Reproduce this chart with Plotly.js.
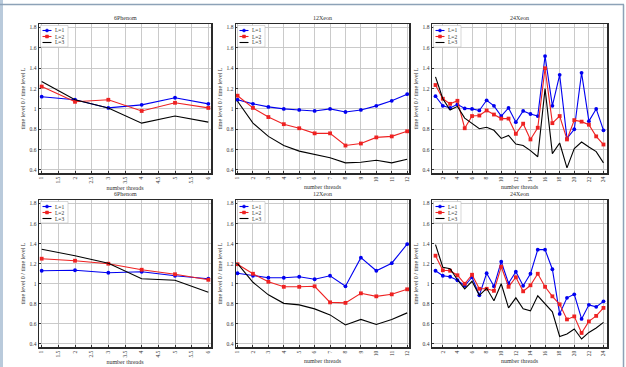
<!DOCTYPE html>
<html>
<head>
<meta charset="utf-8">
<script src="https://cdn.plot.ly/plotly-3.0.1.min.js"></script>
<style>
  html, body { margin: 0; padding: 0; background: #ffffff; }
  #chart { width: 626px; height: 367px; }
</style>
</head>
<body>
<div id="chart"></div>
<script>
// Speed-up ratios (time level 0 / time level L) against thread count, per machine.
const machines = ['6Phenom', '12Xeon', '24Xeon'];
const seriesNames = ['L=1', 'L=2', 'L=3'];

const threadsPhenom = [1, 2, 3, 4, 5, 6];
const threadsXeon12 = [1, 2, 3, 4, 5, 6, 7, 8, 9, 10, 11, 12];
const threadsXeon24 = [1, 2, 3, 4, 5, 6, 7, 8, 9, 10, 11, 12, 13, 14, 15, 16, 17, 18, 19, 20, 21, 22, 23, 24];

// first set of runs (upper row)
const phenomSet1L1 = [1.12, 1.09, 1.01, 1.04, 1.11, 1.05];
const phenomSet1L2 = [1.22, 1.07, 1.09, 0.98, 1.06, 1.01];
const phenomSet1L3 = [1.27, 1.09, 1.01, 0.86, 0.93, 0.87];

const xeon12Set1L1 = [1.09, 1.05, 1.02, 1.00, 0.99, 0.98, 1.00, 0.97, 0.99, 1.03, 1.08, 1.145];
const xeon12Set1L2 = [1.13, 1.01, 0.92, 0.85, 0.81, 0.76, 0.76, 0.64, 0.66, 0.72, 0.73, 0.78];
const xeon12Set1L3 = [1.075, 0.86, 0.73, 0.64, 0.585, 0.55, 0.52, 0.47, 0.475, 0.495, 0.47, 0.505];

const xeon24Set1L1 = [1.125, 1.03, 1.01, 1.045, 1.005, 1.0, 0.985, 1.085, 1.03, 0.93, 1.01, 0.87, 0.98, 0.95, 0.93, 1.52, 1.03, 1.335, 0.71, 0.80, 1.355, 0.88, 1.0, 0.79];
const xeon24Set1L2 = [1.235, 1.10, 1.05, 1.08, 0.81, 0.93, 0.935, 0.985, 0.945, 0.905, 0.905, 0.755, 0.855, 0.70, 0.815, 1.40, 0.86, 0.93, 0.70, 0.89, 0.875, 0.845, 0.73, 0.65];
const xeon24Set1L3 = [1.315, 1.10, 0.99, 1.025, 0.91, 0.855, 0.805, 0.82, 0.79, 0.71, 0.74, 0.655, 0.64, 0.59, 0.53, 1.20, 0.56, 0.665, 0.42, 0.61, 0.675, 0.625, 0.58, 0.47];

// second set of runs (lower row)
const phenomSet2L1 = [1.13, 1.135, 1.11, 1.12, 1.08, 1.05];
const phenomSet2L2 = [1.25, 1.23, 1.20, 1.14, 1.095, 1.04];
const phenomSet2L3 = [1.345, 1.28, 1.205, 1.05, 1.035, 0.915];

const xeon12Set2L1 = [1.105, 1.08, 1.06, 1.06, 1.07, 1.045, 1.08, 0.975, 1.26, 1.13, 1.205, 1.395];
const xeon12Set2L2 = [1.195, 1.10, 1.02, 0.97, 0.97, 0.975, 0.815, 0.81, 0.905, 0.875, 0.895, 0.945];
const xeon12Set2L3 = [1.20, 1.015, 0.89, 0.805, 0.79, 0.75, 0.69, 0.59, 0.645, 0.595, 0.645, 0.71];

const xeon24Set2L1 = [1.13, 1.08, 1.07, 1.035, 0.98, 1.065, 0.885, 1.105, 0.975, 1.22, 1.005, 1.12, 0.98, 1.10, 1.34, 1.34, 1.145, 0.70, 0.86, 0.895, 0.65, 0.79, 0.77, 0.825];
const xeon24Set2L2 = [1.28, 1.135, 1.13, 1.085, 1.0, 1.09, 0.95, 0.95, 0.93, 1.17, 0.97, 1.065, 0.925, 0.985, 1.10, 0.97, 0.875, 0.795, 0.645, 0.675, 0.51, 0.625, 0.68, 0.76];
const xeon24Set2L3 = [1.39, 1.165, 1.15, 1.04, 0.95, 1.025, 0.885, 0.955, 0.83, 1.0, 0.76, 0.86, 0.75, 0.73, 0.88, 0.80, 0.72, 0.475, 0.50, 0.55, 0.45, 0.515, 0.56, 0.615];

// tick positions and labels
const yTickVals = [0.4, 0.6, 0.8, 1.0, 1.2, 1.4, 1.6, 1.8];
const yTickText = ['0.4', '0.6', '0.8', '1', '1.2', '1.4', '1.6', '1.8'];
const phenomTickVals = [1, 1.5, 2, 2.5, 3, 3.5, 4, 4.5, 5, 5.5, 6];
const phenomTickText = ['1', '1.5', '2', '2.5', '3', '3.5', '4', '4.5', '5', '5.5', '6'];
const xeon12TickVals = [1, 2, 3, 4, 5, 6, 7, 8, 9, 10, 11, 12];
const xeon24TickVals = [2, 4, 6, 8, 10, 12, 14, 16, 18, 20, 22, 24];

const xTitle = 'number threads';
const yTitle = 'time level 0 / time level L';

const FONT = 'Liberation Serif, DejaVu Serif, serif';
const COLORS = ['#0000f0', '#ee2222', '#000000'];
const SYMBOLS = ['circle', 'square', null];

const panels = [
  { name: machines[0], x: threadsPhenom, ys: [phenomSet1L1, phenomSet1L2, phenomSet1L3], ticks: phenomTickVals, tickText: phenomTickText, range: [0.92, 6.08] },
  { name: machines[1], x: threadsXeon12, ys: [xeon12Set1L1, xeon12Set1L2, xeon12Set1L3], ticks: xeon12TickVals, tickText: xeon12TickVals.map(String), range: [0.9, 12.12] },
  { name: machines[2], x: threadsXeon24, ys: [xeon24Set1L1, xeon24Set1L2, xeon24Set1L3], ticks: xeon24TickVals, tickText: xeon24TickVals.map(String), range: [0.52, 24.48] },
  { name: machines[0], x: threadsPhenom, ys: [phenomSet2L1, phenomSet2L2, phenomSet2L3], ticks: phenomTickVals, tickText: phenomTickText, range: [0.92, 6.08] },
  { name: machines[1], x: threadsXeon12, ys: [xeon12Set2L1, xeon12Set2L2, xeon12Set2L3], ticks: xeon12TickVals, tickText: xeon12TickVals.map(String), range: [0.9, 12.12] },
  { name: machines[2], x: threadsXeon24, ys: [xeon24Set2L1, xeon24Set2L2, xeon24Set2L3], ticks: xeon24TickVals, tickText: xeon24TickVals.map(String), range: [0.52, 24.48] }
];

// panel boxes in pixels of the 626x367 page
const W = 626, H = 367;
const colPx = [[39, 211], [236, 409], [432, 607]];
const rowPx = [[24, 173], [200, 347]];

const traces = [];
const shapes = [];
const annotations = [];
const layout = {
  width: W, height: H,
  margin: { l: 0, r: 0, t: 0, b: 0 },
  paper_bgcolor: '#ffffff',
  plot_bgcolor: '#ffffff',
  showlegend: false,
  font: { family: FONT, size: 5, color: '#333333' },
  shapes: shapes,
  annotations: annotations
};

panels.forEach((p, i) => {
  const n = i + 1;
  const sfx = n === 1 ? '' : String(n);
  const xa = 'x' + sfx, ya = 'y' + sfx;
  const col = i % 3, row = Math.floor(i / 3);
  const [cx0, cx1] = colPx[col];
  const [ry0, ry1] = rowPx[row];
  const pw = cx1 - cx0, ph = ry1 - ry0;

  layout['xaxis' + sfx] = {
    domain: [cx0 / W, cx1 / W],
    anchor: ya,
    range: p.range,
    tickmode: 'array', tickvals: p.ticks, ticktext: p.tickText,
    tickangle: -90,
    tickfont: { family: FONT, size: 5.5, color: '#333' },
    ticks: 'inside', ticklen: 2, tickcolor: '#333',
    showgrid: true, gridcolor: '#c4c4c4', gridwidth: 0.9,
    zeroline: false,
    showline: true, mirror: true, linecolor: '#2a2a2a', linewidth: 1.5,
    title: { text: xTitle, font: { family: FONT, size: 6, color: '#333' }, standoff: 3 }
  };
  layout['yaxis' + sfx] = {
    domain: [1 - ry1 / H, 1 - ry0 / H],
    anchor: xa,
    range: [0.37, 1.835],
    tickmode: 'array', tickvals: yTickVals, ticktext: yTickText,
    tickfont: { family: FONT, size: 5.5, color: '#333' },
    ticks: 'inside', ticklen: 2, tickcolor: '#333',
    showgrid: true, gridcolor: '#c4c4c4', gridwidth: 0.9,
    zeroline: false,
    showline: true, mirror: true, linecolor: '#2a2a2a', linewidth: 1.5,
    title: { text: yTitle, font: { family: FONT, size: 6, color: '#333' }, standoff: 3 }
  };

  // three series per panel
  p.ys.forEach((yv, k) => {
    const tr = {
      type: 'scatter',
      x: p.x, y: yv,
      xaxis: xa, yaxis: ya,
      name: seriesNames[k],
      mode: SYMBOLS[k] ? 'lines+markers' : 'lines',
      line: { color: COLORS[k], width: 1.1 },
      hoverinfo: 'skip'
    };
    if (SYMBOLS[k]) tr.marker = { symbol: SYMBOLS[k], size: 3.8, color: COLORS[k] };
    traces.push(tr);
  });

  // panel title
  annotations.push({
    xref: 'paper', yref: 'paper',
    x: (cx0 + cx1) / 2 / W, y: 1 - (ry0 - 6) / H,
    xanchor: 'center', yanchor: 'middle',
    text: p.name, showarrow: false,
    font: { family: FONT, size: 6, color: '#333' }
  });

  // compact legend box in the upper-left corner of each panel
  const dx = v => v / pw, dy = v => 1 - v / ph;
  const xr = xa + ' domain', yr = ya + ' domain';
  shapes.push({
    type: 'rect', xref: xr, yref: yr,
    x0: dx(1.5), x1: dx(29), y0: dy(1.5), y1: dy(23),
    fillcolor: '#ffffff', line: { color: '#bdbdbd', width: 0.6 }, layer: 'above'
  });
  seriesNames.forEach((s, k) => {
    const yy = dy(6.5 + k * 6);
    shapes.push({
      type: 'line', xref: xr, yref: yr,
      x0: dx(3.5), x1: dx(12.5), y0: yy, y1: yy,
      line: { color: COLORS[k], width: 1.1 }, layer: 'above'
    });
    if (SYMBOLS[k]) {
      shapes.push({
        type: SYMBOLS[k] === 'circle' ? 'circle' : 'rect', xref: xr, yref: yr,
        x0: dx(6.5), x1: dx(9.5), y0: yy - 1.5 / ph, y1: yy + 1.5 / ph,
        fillcolor: COLORS[k], line: { color: COLORS[k], width: 0.5 }, layer: 'above'
      });
    }
    annotations.push({
      xref: xr, yref: yr, x: dx(14), y: yy,
      xanchor: 'left', yanchor: 'middle',
      text: s, showarrow: false,
      font: { family: FONT, size: 5.5, color: '#333' }
    });
  });
});

// page frame
shapes.push({ type: 'rect', xref: 'paper', yref: 'paper', x0: 0, x1: 3 / W, y0: 0, y1: 1,
  fillcolor: '#b9cadb', line: { width: 0 } });
shapes.push({ type: 'line', xref: 'paper', yref: 'paper', x0: 0, x1: 624 / W, y0: 1 - 4.5 / H, y1: 1 - 4.5 / H,
  line: { color: '#8da2b7', width: 1.5 } });
shapes.push({ type: 'line', xref: 'paper', yref: 'paper', x0: 623.5 / W, x1: 623.5 / W, y0: 0, y1: 1 - 4.5 / H,
  line: { color: '#8da2b7', width: 1.5 } });

Plotly.newPlot('chart', traces, layout, { staticPlot: true, displayModeBar: false });
</script>
</body>
</html>
